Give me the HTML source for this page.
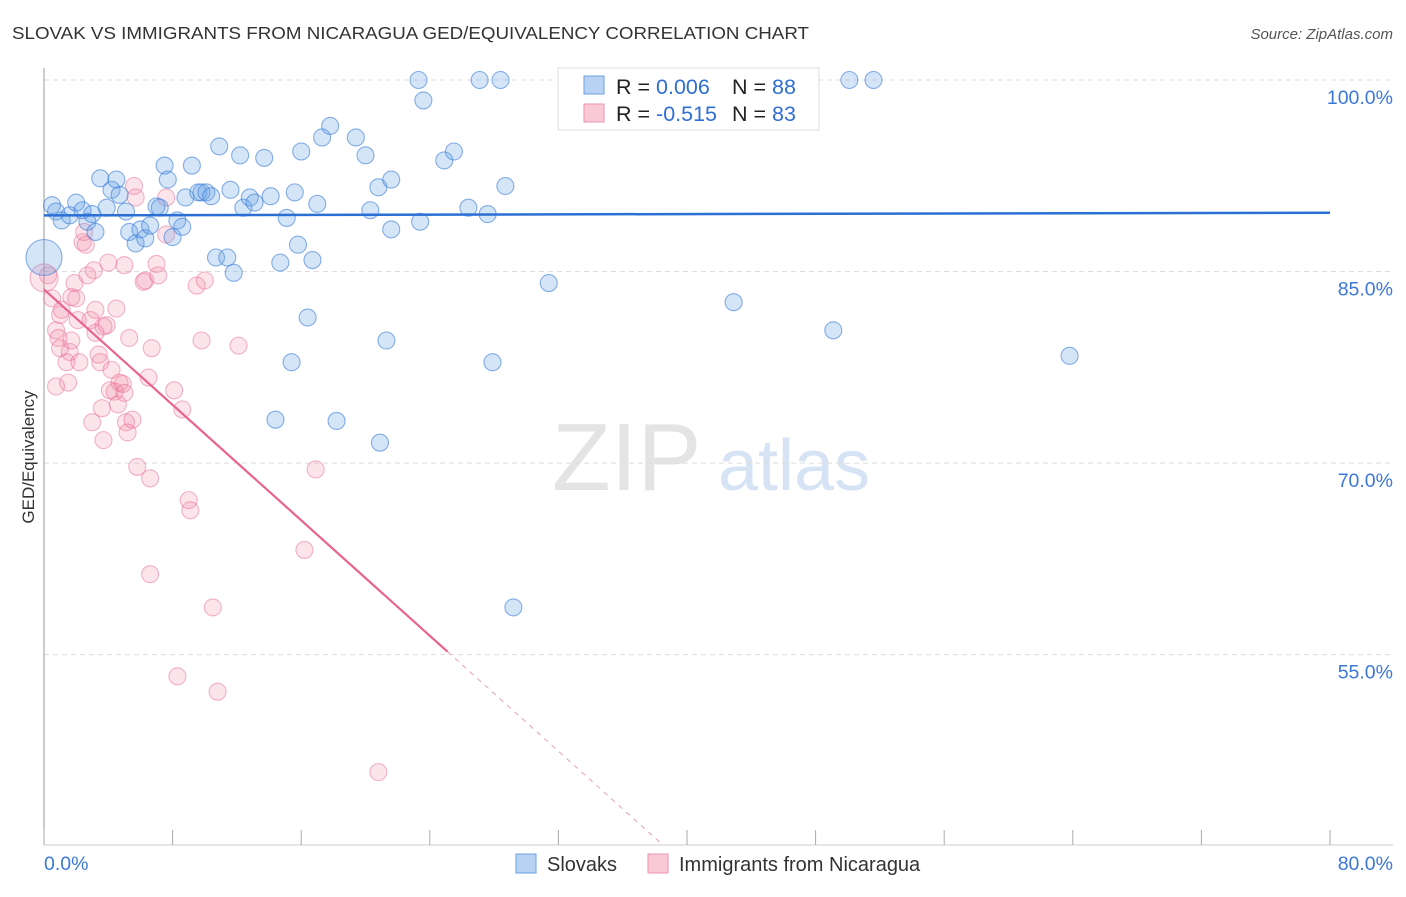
<!DOCTYPE html>
<html><head><meta charset="utf-8"><style>
body{margin:0;background:#fff;font-family:"Liberation Sans",sans-serif;}
svg text{font-family:"Liberation Sans",sans-serif;}
</style></head><body>
<svg id="chart" width="1406" height="892" viewBox="0 0 1406 892" xmlns="http://www.w3.org/2000/svg">
<text x="12" y="39" font-size="17.5" fill="#333" textLength="797" lengthAdjust="spacingAndGlyphs">SLOVAK VS IMMIGRANTS FROM NICARAGUA GED/EQUIVALENCY CORRELATION CHART</text>
<text x="1393" y="39" font-size="15" fill="#555" text-anchor="end" font-style="italic">Source: ZipAtlas.com</text>
<g>
<text x="552" y="490" font-size="96" fill="#e4e4e4" font-family="Liberation Serif, serif">ZIP</text>
<text x="718" y="490" font-size="72" fill="#d6e3f4">atlas</text>
</g>
<g id="grid"></g>
<g id="axes"></g>
<g id="pts"></g>
<g id="lines"></g>
<text transform="translate(34,457) rotate(-90)" font-size="17" fill="#333" text-anchor="middle">GED/Equivalency</text>
<g>
<rect x="558" y="68" width="261" height="62" fill="#fff" stroke="#ddd"/>
<rect x="584" y="76" width="20" height="18" fill="#b8d2f3" stroke="#6ea0e0"/>
<rect x="584" y="104" width="20" height="18" fill="#f9c9d7" stroke="#ee93b0"/>
<text x="616" y="94" font-size="21.5" fill="#222">R = <tspan fill="#2f6ed3">0.006</tspan></text>
<text x="732" y="94" font-size="21.5" fill="#222">N = <tspan fill="#2f6ed3">88</tspan></text>
<text x="616" y="121" font-size="21.5" fill="#222">R = <tspan fill="#2f6ed3">-0.515</tspan></text>
<text x="732" y="121" font-size="21.5" fill="#222">N = <tspan fill="#2f6ed3">83</tspan></text>
</g>
<g>
<rect x="516" y="854" width="20" height="19" fill="#b8d2f3" stroke="#6ea0e0"/>
<text x="547" y="871" font-size="20" fill="#333">Slovaks</text>
<rect x="648" y="854" width="20" height="19" fill="#f9c9d7" stroke="#ee93b0"/>
<text x="679" y="871" font-size="20" fill="#333">Immigrants from Nicaragua</text>
</g>
</svg>
<script>
const yTicks=[100,85,70,55];
const xTickLabels=["0.0%","80.0%"];
const blueX=[0.5,0.75,1.1,1.6,2.0,2.4,2.7,3.0,3.2,3.5,3.9,4.2,4.5,4.7,5.1,5.3,5.7,6.0,6.3,6.6,7.0,7.2,7.5,7.7,8.0,8.3,8.6,8.8,9.2,9.6,9.8,10.1,10.4,10.9,10.7,11.4,11.6,11.8,12.2,12.4,12.8,13.1,13.7,14.1,14.7,15.1,15.6,15.8,16.0,16.7,16.4,17.0,17.3,17.8,19.4,20.0,20.3,20.8,20.9,21.3,21.6,21.6,14.4,15.4,18.2,23.3,23.6,23.4,24.9,25.5,26.4,27.1,27.6,27.9,28.4,28.7,29.2,31.4,36.2,38.2,38.3,42.9,49.1,50.1,51.6,63.8,0];
const blueY=[90.2,89.7,89.0,89.4,90.4,89.8,88.9,89.5,88.1,92.3,90.0,91.4,92.2,91.0,89.7,88.1,87.2,88.3,87.6,88.6,90.1,90.0,93.3,92.2,87.7,89.0,88.5,90.8,93.3,91.2,91.2,91.2,90.9,94.8,86.1,86.1,91.4,84.9,94.1,90.0,90.8,90.4,93.9,90.9,85.7,89.2,91.2,87.1,94.4,85.9,81.4,90.3,95.5,96.4,95.5,94.1,89.8,91.6,71.6,79.6,92.2,88.3,73.4,77.9,73.3,100,98.4,88.9,93.7,94.4,90.0,100,89.5,77.9,100,91.7,58.7,84.1,100,100,97.2,82.6,80.4,100,100,78.4,86.1];
const pinkX=[0.25,0.5,0.75,0.9,1.0,0.75,1.1,1.4,1.5,1.6,1.7,1.9,2.0,2.1,2.2,2.4,2.6,2.7,2.9,3.0,3.1,3.2,3.4,3.5,3.6,3.7,3.9,4.0,4.1,4.2,4.4,4.5,4.6,4.7,4.9,5.0,5.1,5.2,5.3,5.5,5.6,5.7,5.8,6.2,6.3,6.5,6.6,6.6,6.7,7.0,7.1,7.6,8.1,8.3,8.6,9.0,9.1,9.5,10.0,9.8,10.5,10.8,12.1,16.2,16.9,20.8,7.6,2.5,3.7,3.2,5.0,1.7,1.0,0];
const pinkY=[84.7,82.9,80.4,79.8,79.0,76.0,82.0,77.9,76.3,78.7,79.6,84.1,82.9,81.2,77.9,87.3,87.1,84.7,81.2,73.2,85.1,82.0,78.5,77.9,74.3,71.8,80.8,85.7,75.7,77.3,75.6,82.1,74.6,76.3,76.2,85.5,73.2,72.4,79.8,73.4,91.7,90.8,69.7,84.2,84.3,76.7,68.8,61.3,79.0,85.6,84.7,87.9,75.7,53.3,74.2,67.1,66.3,83.9,84.3,79.6,58.7,52.1,79.2,63.2,69.5,45.8,90.8,88.1,80.7,80.2,75.5,83.0,81.6,84.5];
const blueFit=[89.4,89.6];
const pinkFit=[83.6,-1.13];
const NS="http://www.w3.org/2000/svg";
const sx=v=>44+v*16.075, sy=v=>80+(100-v)*12.77;
function mk(tag,attrs,parent){const e=document.createElementNS(NS,tag);for(const k in attrs)e.setAttribute(k,attrs[k]);parent.appendChild(e);return e;}
const grid=document.getElementById('grid'),axes=document.getElementById('axes'),pts=document.getElementById('pts'),lines=document.getElementById('lines');
yTicks.forEach(t=>{
 const l=mk('line',{x1:44,x2:1393,y1:sy(t),y2:sy(t),stroke:'#ddd','stroke-dasharray':'5,4'},grid);
 
 
 const tx=mk('text',{x:1393,y:sy(t)+24,'font-size':19.5,fill:'#3b78d8','text-anchor':'end'},axes);
 tx.textContent=t.toFixed(1)+'%';
 
 
});
const ax=mk('line',{x1:44,x2:44,y1:68,y2:845,stroke:'#999'},axes);


const bx=mk('line',{x1:44,x2:1393,y1:845,y2:845,stroke:'#ccc'},axes);


for(let i=0;i<=10;i++){const t=mk('line',{x1:sx(i*8),x2:sx(i*8),y1:830,y2:845,stroke:'#aaa'},axes);
 
 }
const xl0=mk('text',{x:44,y:870,'font-size':19.5,fill:'#3b78d8'},axes);xl0.textContent=xTickLabels[0];


const xl1=mk('text',{x:1393,y:870,'font-size':19.5,fill:'#3b78d8','text-anchor':'end'},axes);xl1.textContent=xTickLabels[1];


pinkX.forEach((x,i)=>{const big=i===pinkX.length-1;
 const c=mk('circle',{cx:sx(x),cy:sy(pinkY[i]),r:big?14:8.5,fill:'rgba(240,130,165,0.22)',stroke:'rgba(232,110,150,0.5)','stroke-width':1.1},pts);
 
 });
blueX.forEach((x,i)=>{const big=i===blueX.length-1;
 const c=mk('circle',{cx:sx(x),cy:sy(blueY[i]),r:big?18:8.5,fill:'rgba(100,160,230,0.28)',stroke:'rgba(60,125,215,0.6)','stroke-width':1.1},pts);
 
 });
const bl=mk('line',{x1:sx(0),x2:sx(80),y1:sy(blueFit[0]),y2:sy(blueFit[1]),stroke:'#2b6fd4','stroke-width':2.5},lines);


const pf=x=>pinkFit[0]+pinkFit[1]*x;
const xEnd=25.1,xDash=(40.1-pinkFit[0])/pinkFit[1];
const pl=mk('line',{x1:sx(0),x2:sx(xEnd),y1:sy(pf(0)),y2:sy(pf(xEnd)),stroke:'#e8638f','stroke-width':2.2},lines);


const pd=mk('line',{x1:sx(xEnd),x2:sx(xDash),y1:sy(pf(xEnd)),y2:sy(pf(xDash)),stroke:'#e8a0b8','stroke-width':1,'stroke-dasharray':'5,5'},lines);


</script>
</body></html>
